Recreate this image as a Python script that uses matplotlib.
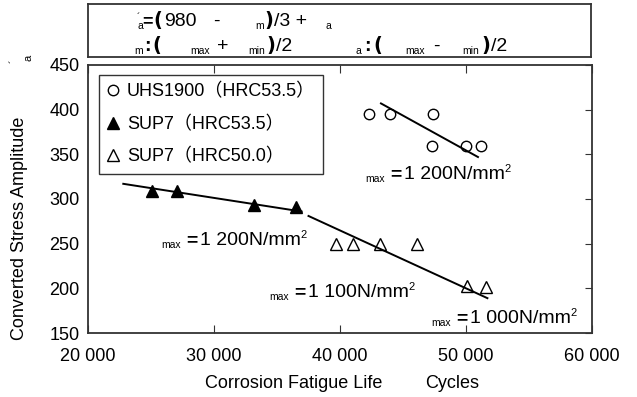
import numpy as np
import matplotlib.pyplot as plt

plt.rcParams['font.family'] = ['Liberation Sans', 'Noto Sans CJK SC', 'DejaVu Sans']

W, H = 637, 397

# data
uhs_life = [42300, 44000, 47400, 47300, 50000, 51200]
uhs_stress = [395, 395, 395, 359, 359, 359]
sup7_535_life = [25100, 27100, 33200, 36500]
sup7_535_stress = [309, 309, 293, 291]
sup7_500_life = [39700, 41000, 43150, 46150, 50050, 51600]
sup7_500_stress = [250, 250, 250, 250, 203, 201]

# fitted lines (end points)
fit_uhs_life = [43250, 50950]
fit_uhs_stress = [407, 347]
fit_535_life = [22800, 36950]
fit_535_stress = [317, 286]
fit_500_life = [37500, 51700]
fit_500_stress = [281, 189]

series_labels = ['UHS1900（HRC53.5）', 'SUP7（HRC53.5）', 'SUP7（HRC50.0）']
x_ticks = [20000, 30000, 40000, 50000, 60000]
x_tick_labels = ['20 000', '30 000', '40 000', '50 000', '60 000']
y_ticks = [150, 200, 250, 300, 350, 400, 450]
note_values = ['1 200', '1 200', '1 100', '1 000']

fig = plt.figure(figsize=(6.37, 3.97), dpi=100)
renderer = fig.canvas.get_renderer()


def fx(px):
    return px / W


def fy(py):
    return 1 - py / H


def put(x, y, s, size=14, **kw):
    kw.setdefault('ha', 'left')
    kw.setdefault('va', 'baseline')
    return fig.text(fx(x), fy(y), s, fontsize=size, **kw)


def paren(x, y, s, size=14):
    # thick brackets of the formula text
    return put(x, y, s, size, weight='bold', family='DejaVu Sans')


#main axes
ax = fig.add_axes([fx(88), fy(333), 504 / W, 268 / H])
ax.plot(uhs_life, uhs_stress, 'o', ls='none', mfc='white', mec='black', mew=1, ms=7.5, label=series_labels[0])
ax.plot(sup7_535_life, sup7_535_stress, '^', ls='none', color='black', ms=8.5, label=series_labels[1])
ax.plot(sup7_500_life, sup7_500_stress, '^', ls='none', mfc='white', mec='black', mew=1, ms=8.5, label=series_labels[2])
ax.plot(fit_uhs_life, fit_uhs_stress, color='black', lw=1.4)
ax.plot(fit_535_life, fit_535_stress, color='black', lw=1.4)
ax.plot(fit_500_life, fit_500_stress, color='black', lw=1.4)

ax.set_xlim(20000, 60000)
ax.set_ylim(150, 450)
ax.set_xticks(x_ticks, x_tick_labels)
ax.set_yticks(y_ticks)
ax.tick_params(axis='x', direction='in', top=True, length=6, pad=11, labelsize=13, color='#333333')
ax.tick_params(axis='y', direction='in', left=False, right=True, length=5, pad=6, labelsize=13, color='#333333')
for sp in ax.spines.values():
    sp.set_color('#333333')
    sp.set_linewidth(1.3)

leg = ax.legend(loc='upper left', bbox_to_anchor=(11 / 504, 1 - 10 / 268), borderaxespad=0,
                fontsize=13, fancybox=False, edgecolor='#333333', framealpha=1,
                handlelength=0.7, handletextpad=0.4, labelspacing=0.85, borderpad=0.45)
leg.get_frame().set_linewidth(1.0)

#axis labels
fig.text(fx(20), fy(228), 'Converted Stress Amplitude', rotation=90, fontsize=13, ha='center', va='center')
put(15, 61, '´', 8, rotation=90, va='center', ha='center')
put(28, 58, 'a', 8, rotation=90, va='center', ha='center')
put(205, 383, 'Corrosion Fatigue Life', 13, va='center')
put(425, 383, 'Cycles', 13, va='center')


#stress notes: small "max", bold "=", value, superscript 2
def stress_note(x, y, value):
    put(x, y + 3, 'max', 7.5)
    put(x + 25, y, '=', 14, weight='bold')
    t = put(x + 39, y, value + 'N/mm', 14)
    bb = t.get_window_extent(renderer)
    put(bb.x1 - 0.5, y - 7, '2', 8)


stress_note(161, 245, note_values[0])
stress_note(365, 179, note_values[1])
stress_note(269, 297, note_values[2])
stress_note(431, 323, note_values[3])

#formula box on top
box = fig.add_axes([fx(88), fy(57), 503 / W, 53 / H])
box.set_xticks([])
box.set_yticks([])
for sp in box.spines.values():
    sp.set_color('#333333')
    sp.set_linewidth(1.3)

put(137, 29, '´\na', 7.5, linespacing=0.8)
put(142, 26, '=', 13, weight='bold')
paren(153, 26, '(')
put(164, 26, '980', 14)
put(213, 26, '-', 14)
put(255, 29, 'm', 7.5)
paren(264, 26, ')')
put(274, 26, '/3 +', 14)
put(325, 29, 'a', 7.5)

put(134, 54, 'm', 7.5)
put(144, 51, ':', 14, weight='bold')
paren(152, 51, '(')
put(190, 54, 'max', 7.5)
put(217, 51, '+', 14)
put(248, 54, 'min', 7.5)
paren(266, 51, ')')
put(276, 51, '/2', 14)

put(355, 54, 'a', 7.5)
put(364, 51, ':', 14, weight='bold')
paren(373, 51, '(')
put(405, 54, 'max', 7.5)
put(433, 51, '-', 14)
put(462, 54, 'min', 7.5)
paren(481, 51, ')')
put(491, 51, '/2', 14)

fig.savefig('out.png', dpi=100)
